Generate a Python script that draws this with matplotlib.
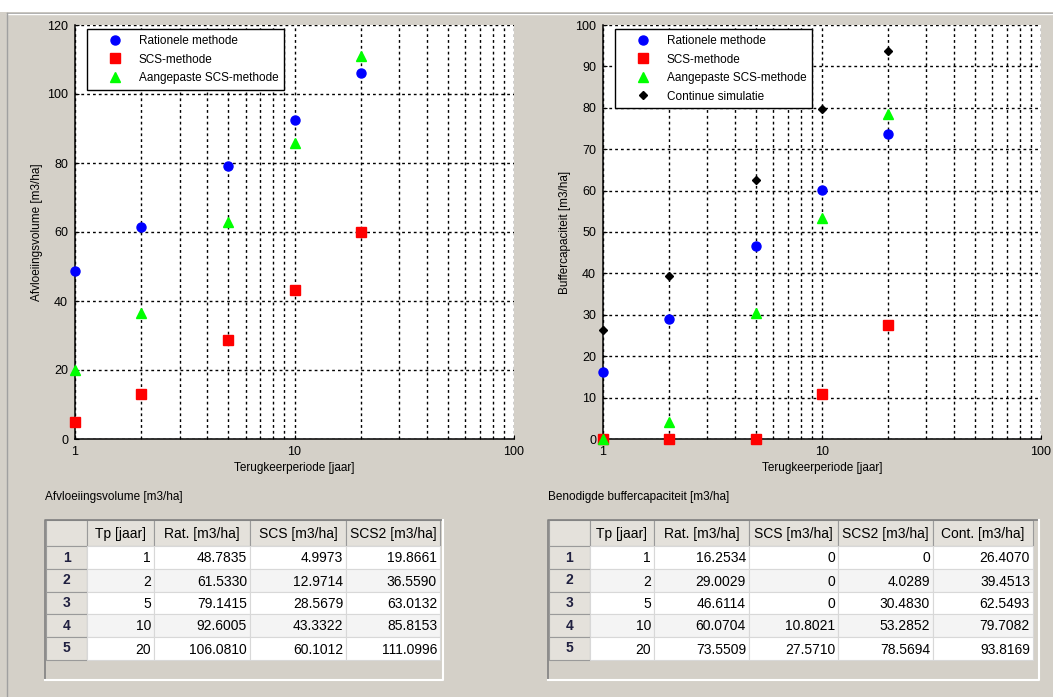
import matplotlib
matplotlib.use("Agg")
import matplotlib.pyplot as plt
from matplotlib.patches import Rectangle

tp = [1, 2, 5, 10, 20]
rat_vol = [48.7835, 61.5330, 79.1415, 92.6005, 106.0810]
scs_vol = [4.9973, 12.9714, 28.5679, 43.3322, 60.1012]
scs2_vol = [19.8661, 36.5590, 63.0132, 85.8153, 111.0996]

rat_buf = [16.2534, 29.0029, 46.6114, 60.0704, 73.5509]
scs_buf = [0, 0, 0, 10.8021, 27.5710]
scs2_buf = [0, 4.0289, 30.4830, 53.2852, 78.5694]
cont_buf = [26.4070, 39.4513, 62.5493, 79.7082, 93.8169]

labels_vol = ["Rationele methode", "SCS-methode", "Aangepaste SCS-methode"]
labels_buf = labels_vol + ["Continue simulatie"]
hdr_vol = ["Tp [jaar]", "Rat. [m3/ha]", "SCS [m3/ha]", "SCS2 [m3/ha]"]
hdr_buf = hdr_vol + ["Cont. [m3/ha]"]

W, H = 1053, 697
BG = "#D4D0C8"
FONT = "Liberation Sans"
plt.rcParams["font.family"] = [FONT, "DejaVu Sans"]

fig = plt.figure(figsize=(W / 100, H / 100), dpi=100, facecolor=BG)

# overlay in pixel coordinates for the GUI bits
gui = fig.add_axes([0, 0, 1, 1])
gui.set_xlim(0, W)
gui.set_ylim(H, 0)
gui.axis("off")
gui.add_patch(Rectangle((0, 0), W, 12, color="white", lw=0))
gui.plot([7, W], [13, 13], color="#A0A0A0", lw=1)
gui.plot([7, W], [14, 14], color="white", lw=1)
gui.plot([7, 7], [13, H], color="#A0A0A0", lw=1)


def pix_rect(x0, y0, x1, y1):
    return [x0 / W, 1 - y1 / H, (x1 - x0) / W, (y1 - y0) / H]


def fmt(v):
    return "0" if v == 0 else "%.4f" % v


def draw_table(x_frame, x_cols, y_rows, y_bottom, headers, columns, title):
    x0, x1 = x_frame
    gui.text(x0, 497, title, fontsize=8.5, va="center", ha="left")
    # frame
    gui.add_patch(Rectangle((x0, y_rows[0]), x1 - x0, y_bottom - y_rows[0],
                            facecolor=BG, edgecolor="none"))
    gui.plot([x0, x0, x1], [y_bottom, y_rows[0], y_rows[0]], color="#808080", lw=1.2)
    gui.plot([x0, x1, x1], [y_bottom, y_bottom, y_rows[0]], color="white", lw=1.5)
    # header row + row headers
    for j in range(len(x_cols) - 1):
        gui.add_patch(Rectangle((x_cols[j], y_rows[0]), x_cols[j + 1] - x_cols[j],
                                y_rows[1] - y_rows[0], facecolor="#E4E1DB",
                                edgecolor="#9A9A9A", lw=0.8))
        if j > 0:
            gui.text((x_cols[j] + x_cols[j + 1]) / 2, (y_rows[0] + y_rows[1]) / 2 + 1,
                     headers[j - 1], fontsize=10, ha="center", va="center")
    nrows = len(y_rows) - 2
    for i in range(nrows):
        ya, yb = y_rows[i + 1], y_rows[i + 2]
        gui.add_patch(Rectangle((x_cols[0], ya), x_cols[1] - x_cols[0], yb - ya,
                                facecolor="#E4E1DB", edgecolor="#9A9A9A", lw=0.8))
        gui.text((x_cols[0] + x_cols[1]) / 2, (ya + yb) / 2, str(i + 1),
                 fontsize=10, ha="center", va="center", fontweight="bold",
                 color="#202040")
        fill = "white" if i % 2 == 0 else "#F4F4F4"
        for j in range(1, len(x_cols) - 1):
            gui.add_patch(Rectangle((x_cols[j], ya), x_cols[j + 1] - x_cols[j], yb - ya,
                                    facecolor=fill, edgecolor="#D8D8D8", lw=0.8))
            col = columns[j - 1]
            txt = str(col[i]) if j == 1 else fmt(col[i])
            gui.text(x_cols[j + 1] - 3, (ya + yb) / 2 + 1, txt, fontsize=10,
                     ha="right", va="center")


rows = [520, 546, 569, 592, 614, 637, 660]
draw_table((45, 443), [46, 87, 154, 250, 346, 440], rows, 680,
           hdr_vol, [tp, rat_vol, scs_vol, scs2_vol], "Afvloeiingsvolume [m3/ha]")
draw_table((548, 1039), [549, 590, 654, 749, 838, 933, 1033], rows, 680,
           hdr_buf, [tp, rat_buf, scs_buf, scs2_buf, cont_buf],
           "Benodigde buffercapaciteit [m3/ha]")

grid_kw = dict(color="black", lw=1.0, linestyle=(0, (2, 2.2)))


def setup_axes(ax, ymax, ystep, ylabel):
    ax.set_xscale("log")
    ax.set_xlim(1, 100)
    ax.set_ylim(0, ymax)
    ax.set_yticks(range(0, ymax + 1, ystep))
    ax.set_xticks([1, 10, 100])
    ax.set_xticklabels(["1", "10", "100"])
    ax.grid(True, which="major", **grid_kw)
    ax.grid(True, which="minor", axis="x", **grid_kw)
    ax.set_axisbelow(True)
    for s in ("top", "right"):
        ax.spines[s].set_visible(False)
    ax.spines["left"].set_linewidth(1.1)
    ax.spines["bottom"].set_linewidth(1.1)
    ax.tick_params(which="both", direction="in", labelsize=9, pad=5,
                   top=False, right=False, length=3)
    ax.tick_params(which="minor", length=2)
    ax.set_xlabel("Terugkeerperiode [jaar]", fontsize=8.5, labelpad=3)
    ax.set_ylabel(ylabel, fontsize=8.5, labelpad=3)


mk = dict(linestyle="none", clip_on=False, zorder=5)

ax1 = fig.add_axes(pix_rect(75, 25, 514, 439))
setup_axes(ax1, 120, 20, "Afvloeiingsvolume [m3/ha]")
ax1.plot(tp, rat_vol, "o", color="blue", ms=6.5, label=labels_vol[0], **mk)
ax1.plot(tp, scs_vol, "s", color="red", ms=6.5, label=labels_vol[1], **mk)
ax1.plot(tp, scs2_vol, "^", color="#00FF00", ms=6.5, label=labels_vol[2], **mk)

ax2 = fig.add_axes(pix_rect(603, 25, 1041, 439))
setup_axes(ax2, 100, 10, "Buffercapaciteit [m3/ha]")
ax2.plot(tp, rat_buf, "o", color="blue", ms=6.5, label=labels_buf[0], **mk)
ax2.plot(tp, scs_buf, "s", color="red", ms=6.5, label=labels_buf[1], **mk)
ax2.plot(tp, scs2_buf, "^", color="#00FF00", ms=6.5, label=labels_buf[2], **mk)
ax2.plot(tp, cont_buf, "D", color="black", ms=4.5, label=labels_buf[3], **mk)

for ax in (ax1, ax2):
    leg = ax.legend(loc="upper left", bbox_to_anchor=(0.027, 0.99), fontsize=8.5,
                    fancybox=False, framealpha=1, edgecolor="black",
                    handlelength=3.8, handletextpad=0.1, borderpad=0.5,
                    labelspacing=0.55, borderaxespad=0)
    leg.get_frame().set_linewidth(1)
    leg.set_zorder(10)

fig.savefig("out.png", dpi=100, facecolor=BG)
